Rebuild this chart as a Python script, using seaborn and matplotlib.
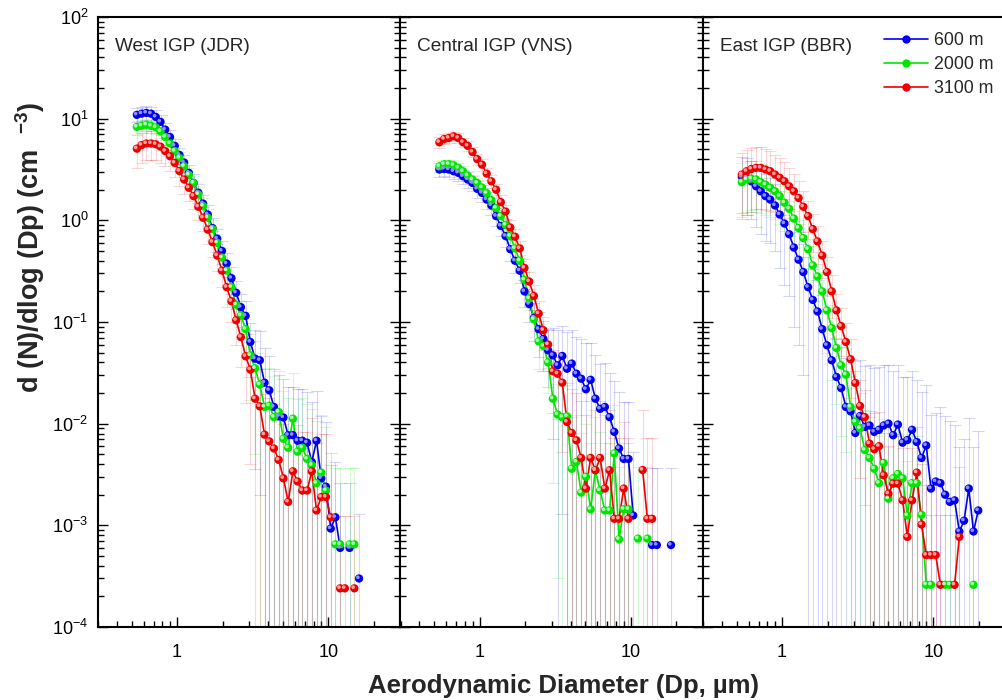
import numpy as np
import pandas as pd
import seaborn as sns
import matplotlib.pyplot as plt
from matplotlib.lines import Line2D
from matplotlib.ticker import LogLocator, NullFormatter, LogFormatterMathtext
from matplotlib.transforms import ScaledTranslation

nan = np.nan

# APS channel midpoints (um)
diam = [0.542, 0.583, 0.626, 0.673, 0.723, 0.777, 0.835, 0.898, 0.965, 1.037,
        1.114, 1.197, 1.286, 1.382, 1.486, 1.596, 1.715, 1.843, 1.981, 2.129,
        2.288, 2.458, 2.642, 2.839, 3.051, 3.278, 3.523, 3.786, 4.068, 4.371,
        4.698, 5.048, 5.425, 5.829, 6.264, 6.732, 7.234, 7.774, 8.354, 8.977,
        9.647, 10.37, 11.14, 11.97, 12.86, 13.82, 14.86, 15.96, 17.15, 18.43, 19.81]

heights = ["600 m", "2000 m", "3100 m"]
sites = ["West IGP (JDR)", "Central IGP (VNS)", "East IGP (BBR)"]

# ---- West IGP (JDR) ----
west_600 = [10.9, 11.2, 11.4, 11.2, 10.4, 9.3, 7.8, 6.6, 5.4, 4.4, 3.7, 2.93, 2.33, 1.87, 1.46, 1.14, 0.84,
            0.66, 0.50, 0.375, 0.27, 0.194, 0.14, 0.115, 0.0636, 0.0436, 0.042, 0.0253, 0.0213, 0.0146,
            0.0118, 0.0115, 0.0077, 0.0077, 0.0068, 0.0068, 0.0065, 0.0042, 0.0068, 0.0029, 0.0024,
            0.00093, 0.0012, 0.0006, nan, 0.0006, nan, 0.0003, nan, nan, nan]
west_2000 = [8.3, 8.5, 8.7, 8.5, 8.2, 7.5, 6.6, 5.7, 4.8, 4.1, 3.4, 2.8, 2.33, 1.8, 1.38, 1.06, 0.82, 0.6,
             0.43, 0.32, 0.22, 0.148, 0.116, 0.085, 0.047, 0.035, 0.0242, 0.0146, 0.015, 0.0116, 0.013,
             0.0071, 0.0058, 0.0112, 0.0053, 0.0058, 0.0045, 0.0039, 0.0026, 0.0033, 0.0022, nan,
             0.00065, 0.00065, nan, 0.00065, 0.00065, nan, nan, nan, nan]
west_3100 = [5.07, 5.5, 5.7, 5.7, 5.6, 5.3, 4.8, 4.27, 3.67, 3.05, 2.52, 2.09, 1.73, 1.36, 1.06, 0.81, 0.61,
             0.45, 0.32, 0.22, 0.16, 0.104, 0.071, 0.046, 0.034, 0.0176, 0.0148, 0.0078, 0.0067, 0.0057,
             0.0044, 0.0029, 0.0017, 0.0034, 0.0027, 0.0022, 0.0022, 0.0034, 0.0014, 0.0019, 0.0019,
             0.0012, nan, 0.00024, 0.00024, nan, 0.00024, nan, nan, nan, nan]

# ---- Central IGP (VNS) ----
central_600 = [3.16, 3.2, 3.16, 3.04, 2.93, 2.71, 2.52, 2.33, 2.04, 1.86, 1.6, 1.4, 1.1, 0.88, 0.70, 0.52,
               0.40, 0.32, 0.2, 0.15, 0.11, 0.085, 0.068, 0.0527, 0.047, 0.0375, 0.0463, 0.0347, 0.039,
               0.031, 0.0277, 0.0218, 0.027, 0.0176, 0.014, 0.0146, 0.0116, 0.0083, 0.0057, 0.0045,
               0.0045, 0.00125, nan, nan, nan, 0.00064, 0.00064, nan, nan, 0.00064, nan]
central_2000 = [3.4, 3.56, 3.56, 3.48, 3.28, 3.04, 2.76, 2.52, 2.33, 2.1, 1.85, 1.58, 1.32, 1.1, 0.9, 0.7,
                0.53, 0.4, 0.26, 0.17, 0.106, 0.0645, 0.058, 0.04, 0.0176, 0.0123, 0.0116, 0.0118, 0.0036,
                0.0042, 0.0021, 0.0030, 0.00144, 0.0035, 0.0022, 0.0014, 0.0014, 0.0051, 0.00073,
                0.00144, 0.00144, nan, 0.00074, nan, 0.00074, nan, nan, nan, nan, nan, nan]
central_3100 = [5.86, 6.3, 6.45, 6.7, 6.45, 5.86, 5.4, 4.7, 4.0, 3.53, 2.88, 2.42, 2.0, 1.51, 1.22, 0.85,
                0.69, 0.53, 0.34, 0.25, 0.18, 0.121, 0.083, 0.060, 0.0327, 0.031, 0.0253, 0.0104, 0.0081,
                0.00685, 0.0046, 0.0023, 0.0046, 0.00348, 0.0046, 0.0023, 0.00348, 0.00116, 0.00116,
                0.0023, 0.00116, nan, nan, 0.0035, 0.00116, 0.00116, nan, nan, nan, nan, nan]

# ---- East IGP (BBR) ----
east_600 = [2.68, 2.62, 2.42, 2.16, 1.93, 1.73, 1.6, 1.4, 1.14, 0.93, 0.73, 0.54, 0.41, 0.31, 0.22, 0.165,
            0.127, 0.085, 0.059, 0.042, 0.0288, 0.0224, 0.0146, 0.0132, 0.0081, 0.0119, 0.0093, 0.0096,
            0.0083, 0.0087, 0.0096, 0.0100, 0.0077, 0.0098, 0.0065, 0.0069, 0.0087, 0.0066, 0.0046,
            0.0061, 0.0023, 0.0027, 0.0026, 0.0020, 0.0017, 0.00176, 0.00087, 0.00111, 0.0023,
            0.00087, 0.0014]
east_2000 = [2.37, 2.52, 2.57, 2.52, 2.37, 2.24, 2.09, 1.93, 1.73, 1.49, 1.3, 1.04, 0.84, 0.67, 0.52, 0.36,
             0.28, 0.2, 0.13, 0.087, 0.0555, 0.0375, 0.0303, 0.0146, 0.0104, 0.009, 0.0055, 0.0046,
             0.0036, 0.0026, 0.0041, 0.00183, 0.0029, 0.0032, 0.0029, 0.00125, 0.0026, 0.0026, 0.00127,
             0.00026, 0.00026, nan, nan, 0.00026, 0.00026, nan, nan, nan, nan, 0.00026, nan]
east_3100 = [2.82, 3.04, 3.2, 3.28, 3.28, 3.16, 3.04, 2.82, 2.62, 2.42, 2.16, 1.93, 1.66, 1.36, 1.1, 0.82,
             0.62, 0.45, 0.31, 0.2, 0.13, 0.091, 0.0636, 0.043, 0.0251, 0.0149, 0.0116, 0.00636, 0.0056,
             0.006, 0.0031, 0.00205, 0.00257, 0.00257, 0.00176, 0.00077, 0.00176, 0.0033, 0.00102,
             0.00051, 0.00051, 0.00051, 0.00026, nan, nan, 0.00026, 0.00077, nan, nan, nan, nan]

# ---- standard deviations (error bars) ----
west_600_sd = [1.7, 1.8, 1.8, 1.8, 1.7, 1.5, 1.3, 1.1, 0.9, 0.8, 0.7, 0.6, 0.5, 0.4, 0.33, 0.27, 0.21, 0.17,
               0.13, 0.10, 0.08, 0.06, 0.05, 0.045, 0.035, 0.04, 0.04, 0.03, 0.025, 0.02, 0.018, 0.016,
               0.015, 0.015, 0.015, 0.015, 0.014, 0.012, 0.014, 0.009, 0.008, 0.003, 0.003, 0.002, nan,
               0.002, nan, 0.001, nan, nan, nan]
west_2000_sd = [1.2, 1.2, 1.2, 1.2, 1.1, 1.0, 0.9, 0.8, 0.7, 0.6, 0.5, 0.45, 0.4, 0.32, 0.27, 0.22, 0.18,
                0.14, 0.11, 0.09, 0.07, 0.05, 0.045, 0.04, 0.03, 0.03, 0.025, 0.02, 0.02, 0.018, 0.02,
                0.014, 0.012, 0.02, 0.012, 0.012, 0.011, 0.01, 0.008, 0.009, 0.007, nan, 0.003, 0.003,
                nan, 0.003, 0.003, nan, nan, nan, nan]
west_3100_sd = [1.8, 1.8, 1.8, 1.8, 1.7, 1.6, 1.4, 1.2, 1.0, 0.85, 0.7, 0.55, 0.45, 0.35, 0.28, 0.22, 0.17,
                0.13, 0.1, 0.08, 0.06, 0.045, 0.035, 0.03, 0.03, 0.02, 0.02, 0.012, 0.011, 0.01, 0.009,
                0.007, 0.006, 0.008, 0.007, 0.006, 0.006, 0.008, 0.005, 0.006, 0.006, 0.004, nan, 0.001,
                0.001, nan, 0.001, nan, nan, nan, nan]
central_600_sd = [0.5, 0.5, 0.5, 0.5, 0.5, 0.45, 0.45, 0.4, 0.4, 0.35, 0.3, 0.27, 0.22, 0.18, 0.15, 0.12,
                  0.1, 0.08, 0.06, 0.05, 0.045, 0.04, 0.035, 0.03, 0.04, 0.045, 0.045, 0.045, 0.045, 0.04,
                  0.04, 0.04, 0.035, 0.03, 0.025, 0.025, 0.02, 0.018, 0.015, 0.012, 0.012, 0.004, nan, nan,
                  nan, 0.003, 0.003, nan, nan, 0.003, nan]
central_2000_sd = [0.4, 0.4, 0.4, 0.4, 0.38, 0.36, 0.33, 0.3, 0.28, 0.25, 0.22, 0.2, 0.17, 0.14, 0.12, 0.1,
                   0.08, 0.06, 0.05, 0.04, 0.035, 0.03, 0.025, 0.02, 0.015, 0.012, 0.012, 0.012, 0.008,
                   0.008, 0.006, 0.007, 0.005, 0.008, 0.006, 0.005, 0.005, 0.01, 0.003, 0.005, 0.005, nan,
                   0.003, nan, 0.003, nan, nan, nan, nan, nan, nan]
central_3100_sd = [0.7, 0.7, 0.7, 0.7, 0.7, 0.65, 0.6, 0.55, 0.5, 0.45, 0.4, 0.35, 0.3, 0.25, 0.2, 0.16,
                   0.13, 0.1, 0.08, 0.06, 0.05, 0.04, 0.03, 0.025, 0.02, 0.02, 0.02, 0.015, 0.014, 0.013,
                   0.012, 0.01, 0.012, 0.01, 0.012, 0.01, 0.01, 0.006, 0.006, 0.008, 0.006, nan, nan, 0.01,
                   0.006, 0.006, nan, nan, nan, nan, nan]
east_600_sd = [1.5, 1.5, 1.4, 1.3, 1.2, 1.1, 1.0, 0.9, 0.8, 0.7, 0.55, 0.45, 0.35, 0.28, 0.22, 0.17, 0.13,
               0.1, 0.07, 0.05, 0.04, 0.035, 0.03, 0.03, 0.025, 0.03, 0.028, 0.028, 0.027, 0.027, 0.028,
               0.028, 0.025, 0.028, 0.022, 0.022, 0.024, 0.02, 0.016, 0.018, 0.01, 0.01, 0.012, 0.01,
               0.009, 0.008, 0.005, 0.006, 0.009, 0.005, 0.007]
east_2000_sd = [1.3, 1.3, 1.3, 1.3, 1.2, 1.1, 1.0, 0.9, 0.8, 0.7, 0.6, 0.5, 0.4, 0.33, 0.26, 0.2, 0.15,
                0.11, 0.08, 0.06, 0.04, 0.03, 0.025, 0.015, 0.012, 0.011, 0.008, 0.007, 0.006, 0.005,
                0.007, 0.004, 0.005, 0.006, 0.005, 0.003, 0.005, 0.005, 0.003, 0.001, 0.001, nan, nan,
                0.001, 0.001, nan, nan, nan, nan, 0.001, nan]
east_3100_sd = [1.8, 1.9, 2.0, 2.0, 2.0, 1.9, 1.8, 1.6, 1.5, 1.3, 1.1, 0.9, 0.75, 0.6, 0.45, 0.33, 0.25,
                0.18, 0.13, 0.09, 0.06, 0.045, 0.035, 0.025, 0.016, 0.012, 0.01, 0.007, 0.007, 0.007,
                0.005, 0.004, 0.005, 0.005, 0.004, 0.002, 0.004, 0.006, 0.003, 0.002, 0.002, 0.002, 0.001,
                nan, nan, 0.001, 0.003, nan, nan, nan, nan]

series = {
    sites[0]: [(west_600, west_600_sd), (west_2000, west_2000_sd), (west_3100, west_3100_sd)],
    sites[1]: [(central_600, central_600_sd), (central_2000, central_2000_sd), (central_3100, central_3100_sd)],
    sites[2]: [(east_600, east_600_sd), (east_2000, east_2000_sd), (east_3100, east_3100_sd)],
}

colors = {"600 m": "#0000ee", "2000 m": "#00e600", "3100 m": "#ee0000"}
shine = {"600 m": "#9090ff", "2000 m": "#b0ffb0", "3100 m": "#ffa0a0"}

# build long table, segment id breaks the line at missing bins
rows = []
for site in sites:
    for h, (vals, sds) in zip(heights, series[site]):
        seg = 0
        for d, v, s in zip(diam, vals, sds):
            if np.isnan(v):
                seg += 1
                continue
            rows.append({"site": site, "height": h, "d": d, "value": v, "sd": s,
                         "seg": f"{h}-{seg}"})
df = pd.DataFrame(rows)

sns.set_style("ticks")
plt.rcParams["font.family"] = ["Liberation Sans", "DejaVu Sans"]
plt.rcParams["mathtext.fontset"] = "custom"
plt.rcParams["mathtext.rm"] = "Liberation Sans"
plt.rcParams["mathtext.bf"] = "Liberation Sans:bold"
plt.rcParams["mathtext.it"] = "Liberation Sans:italic"

fig = plt.figure(figsize=(10.03, 7.0), dpi=100)
W = 1003.0
pw = 302.5
for i, site in enumerate(sites):
    ax = fig.add_axes([(98 + i * pw) / W, 73 / 700, pw / W, 610 / 700])
    sub = df[df["site"] == site]

    for h in heights:
        s = sub[sub["height"] == h]
        ax.errorbar(s["d"], s["value"], yerr=s["sd"], fmt="none", ecolor=colors[h],
                    alpha=0.16, elinewidth=0.8, capsize=4, capthick=0.8, zorder=1)

    sns.lineplot(data=sub, x="d", y="value", hue="height", units="seg", estimator=None,
                 palette=colors, hue_order=heights, legend=False, lw=1.2, ax=ax, zorder=2)
    sns.scatterplot(data=sub, x="d", y="value", hue="height", palette=colors, hue_order=heights,
                    s=36, edgecolor="none", legend=False, ax=ax, zorder=3)
    # little highlight to give the ball look
    off = ScaledTranslation(-1.2 / 100, 1.2 / 100, fig.dpi_scale_trans)
    for h in heights:
        s = sub[sub["height"] == h]
        coll = ax.scatter(s["d"], s["value"], s=7, color=shine[h], edgecolor="none", zorder=4)
        coll.set_offset_transform(ax.transData + off)

    ax.set_xscale("log")
    ax.set_yscale("log")
    ax.set_xlim(0.3, 30)
    ax.set_ylim(1e-4, 1e2)
    ax.set_xlabel("")
    ax.set_ylabel("")

    ax.xaxis.set_minor_locator(LogLocator(base=10, subs=np.arange(2, 10), numticks=20))
    ax.set_xticks([1, 10])
    ax.set_xticklabels(["1", "10"])
    ax.xaxis.set_minor_formatter(NullFormatter())
    ax.yaxis.set_major_locator(LogLocator(base=10, numticks=10))
    ax.yaxis.set_minor_locator(LogLocator(base=10, subs=np.arange(2, 10), numticks=20))
    ax.yaxis.set_major_formatter(LogFormatterMathtext())
    ax.yaxis.set_minor_formatter(NullFormatter())

    ax.tick_params(which="both", direction="in", left=True, right=(i < 2), top=False, bottom=True,
                   width=1.0, colors="black")
    ax.tick_params(which="major", length=7)
    ax.tick_params(which="minor", length=4)
    ax.tick_params(axis="x", labelsize=13, pad=12)
    ax.tick_params(axis="y", labelsize=13, pad=7)
    if i > 0:
        ax.tick_params(axis="y", labelleft=False)
    for sp in ax.spines.values():
        sp.set_linewidth(1.5)
        sp.set_color("black")

    ax.text(0.056, 0.952, site, transform=ax.transAxes, fontsize=13.7, ha="left", va="center")

handles = [Line2D([0], [0], color=colors[h], lw=1.2, marker="o", markersize=6,
                  markeredgecolor="none") for h in heights]
fig.legend(handles, heights, loc="upper left", bbox_to_anchor=(884 / W, 1 - 32 / 700),
           frameon=False, fontsize=12.8, handlelength=2.5, handletextpad=0.3, labelspacing=0.4,
           borderpad=0, borderaxespad=0)

fig.text(30 / W, 1 - 247 / 700, r"d (N)/dlog (Dp) (cm  $^{\mathbf{-3}}$)", rotation=90,
         ha="center", va="center", fontsize=19.5, fontweight="bold")
fig.text(563 / W, 1 - 686 / 700, "Aerodynamic Diameter (Dp, µm)", ha="center", va="center",
         fontsize=18.5, fontweight="bold")

fig.savefig("out.png", dpi=100)
